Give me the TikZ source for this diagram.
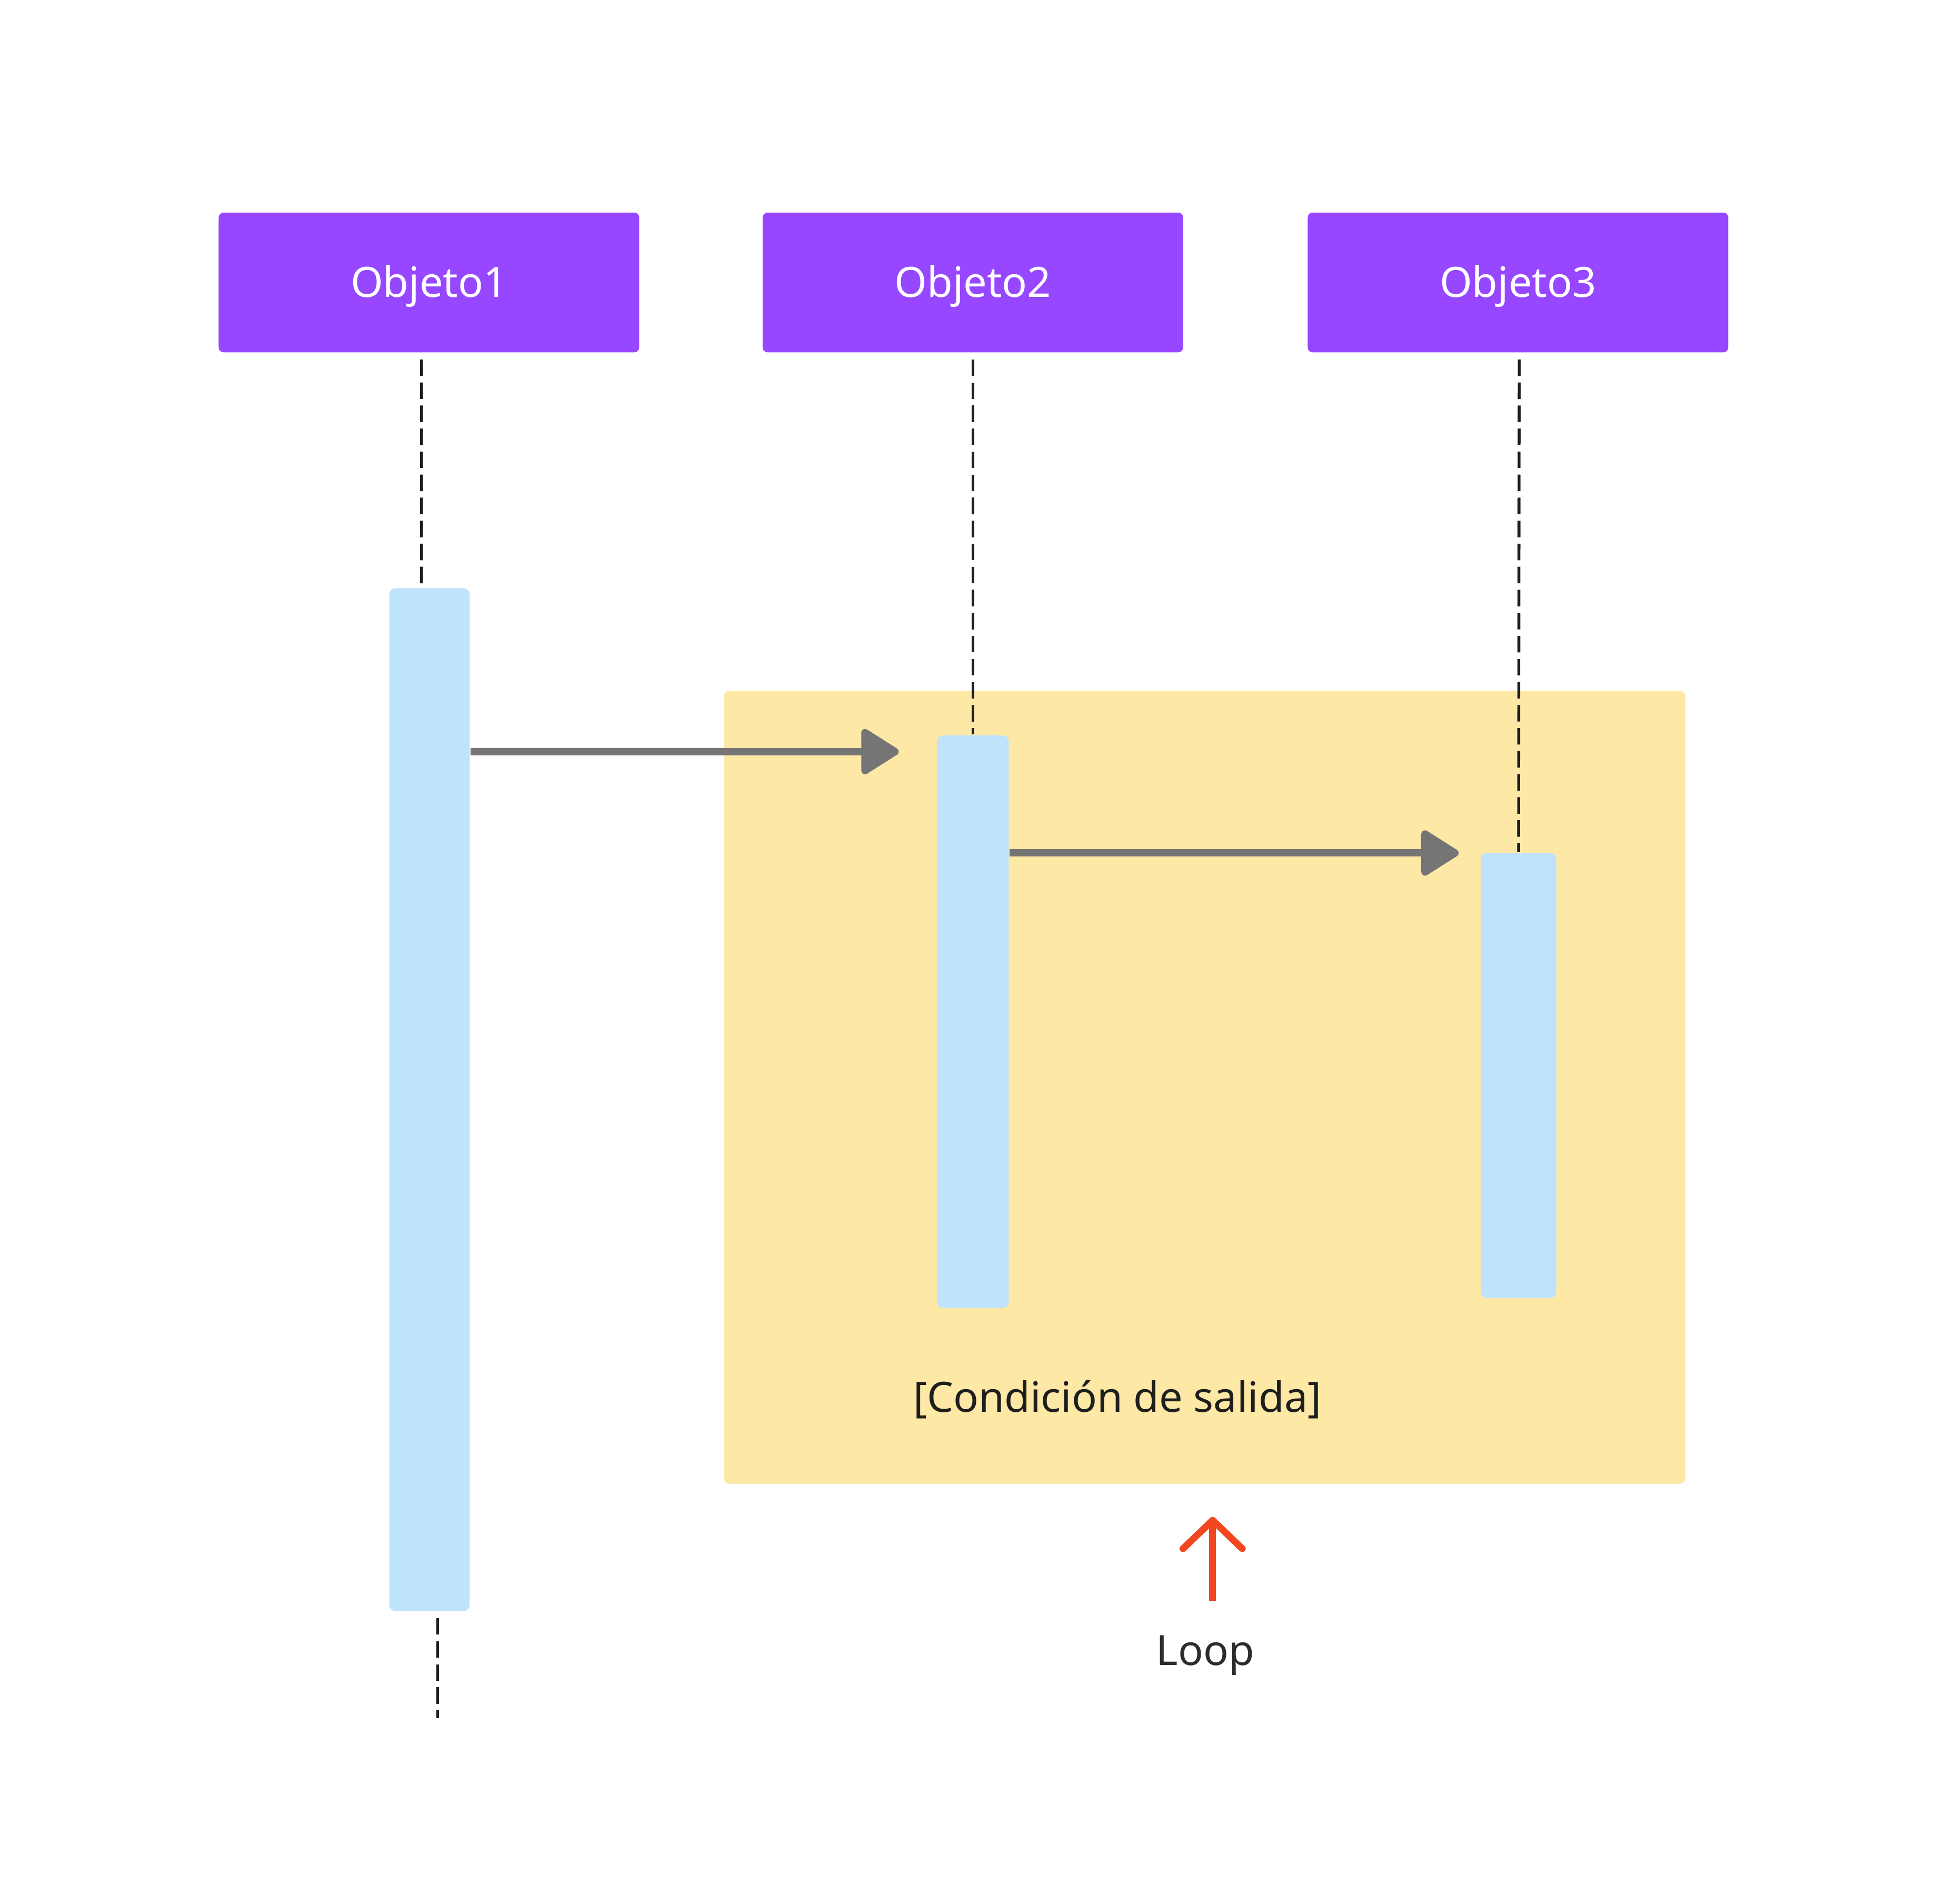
\documentclass[tikz,border=0pt]{standalone}
\usepackage{fontspec}
\setmainfont{Noto Sans}
\usetikzlibrary{arrows.meta}
\definecolor{objpurple}{HTML}{9747FF}
\definecolor{barblue}{HTML}{BFE3FD}
\definecolor{loopyellow}{HTML}{FEE8A5}
\definecolor{arrowgray}{HTML}{757575}
\definecolor{loopred}{HTML}{F24822}
\definecolor{inkblack}{HTML}{1E1E1E}
\definecolor{inkgray}{HTML}{2C2C2C}
\tikzset{
  objbox/.style={fill=objpurple, rounded corners=0.04cm, minimum width=3.4cm, minimum height=1.13cm,
    inner sep=0pt, text=white, text height=6.85pt, text depth=0pt, font=\fontsize{9.6}{11.5}\selectfont},
  actbar/.style={fill=barblue, rounded corners=0.05cm, inner sep=0pt},
  loopframe/.style={fill=loopyellow, rounded corners=0.04cm, inner sep=0pt,
    minimum width=7.77cm, minimum height=6.41cm},
  lifeline/.style={draw=inkblack, line width=0.65pt, dash pattern=on 3.8pt off 1.5pt},
  msgarrow/.style={draw=arrowgray, line width=0.06cm, -{Triangle[length=0.33cm,width=0.40cm,round]}},
  looparrow/.style={draw=loopred, line width=0.055cm, -{Straight Barb[length=0.23cm,width=0.48cm,round]}},
  labeltext/.style={inner sep=0pt, font=\fontsize{9.6}{11.5}\selectfont},
}
\begin{document}
\begin{tikzpicture}[x=0.01cm,y=-0.01cm]
	%%%%% START %%%%%
	\fill[white] (0,0) rectangle (1567,1540);
	
	\node[loopframe] (frame) at (974.5,879.5) {};
	\node[labeltext, text=inkblack] (cond) at (904,1132) {[Condición de salida]};
	
	\node[objbox] (obj1) at (347,228.5) {Objeto1};
	\node[objbox] (obj2) at (787,228.5) {Objeto2};
	\node[objbox] (obj3) at (1228,228.5) {Objeto3};
	
	\node[actbar, minimum width=0.65cm, minimum height=8.27cm] (bar1) at (347.5,889.5) {};
	\node[actbar, minimum width=0.58cm, minimum height=4.63cm] (bar2) at (787,826.5) {};
	\node[actbar, minimum width=0.61cm, minimum height=3.60cm] (bar3) at (1228.5,870) {};
	
	\draw[lifeline, shorten <=0.05cm] ([xshift=-0.06cm]obj1.south) -- ([xshift=-0.065cm]bar1.north);
	\draw[lifeline, shorten <=0.05cm] (obj2.south) -- (bar2.north);
	\draw[lifeline, shorten <=0.05cm] ([xshift=0.01cm]obj3.south) -- (bar3.north);
	\coordinate (life1end) at (354,1390);
	\draw[lifeline, shorten <=0.05cm] (bar1.south -| life1end) -- (life1end);
	
	\coordinate (msg1end) at (727,608);
	\coordinate (msg2end) at (1180,690);
	\draw[msgarrow] (bar1.east |- msg1end) -- (msg1end);
	\draw[msgarrow] (bar2.east |- msg2end) -- (msg2end);
	
	\coordinate (loopfoot) at (981,1295);
	\coordinate (looptip) at (981,1227);
	\draw[looparrow] (loopfoot) -- (looptip);
	\node[labeltext, text=inkgray] (loop) at (975,1339) {Loop};
	%%%%% END %%%%%
\end{tikzpicture}
\end{document}
